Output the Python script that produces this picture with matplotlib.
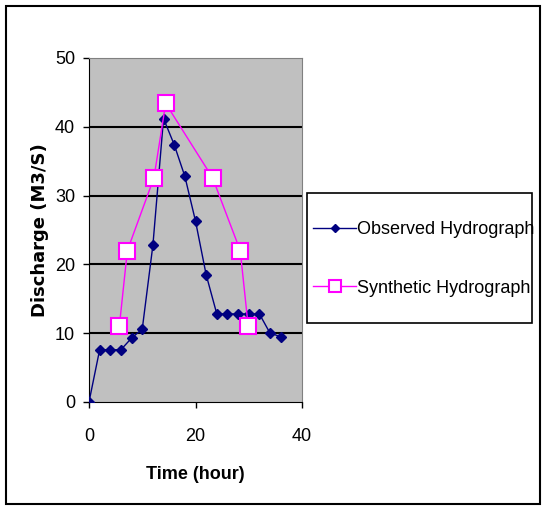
import matplotlib.pyplot as plt
from matplotlib.patches import Rectangle

# Observed hydrograph
t_obs = [0, 2, 4, 6, 8, 10, 12, 14, 16, 18, 20, 22, 24, 26, 28, 30, 32, 34, 36]
q_obs = [0, 7.6, 7.6, 7.6, 9.3, 10.6, 22.8, 41.2, 37.4, 32.8, 26.3, 18.5,
         12.8, 12.8, 12.8, 12.8, 12.8, 10.0, 9.5]

# Synthetic hydrograph
t_syn = [5.7, 7.2, 12.2, 14.4, 23.2, 28.4, 29.9]
q_syn = [11.0, 22.0, 32.6, 43.4, 32.6, 22.0, 11.0]

plt.rcParams['font.family'] = ['Liberation Sans', 'DejaVu Sans']

W, H = 548, 508
fig = plt.figure(figsize=(W / 100, H / 100), dpi=100)

# outer frame
fig.patches.append(Rectangle((6 / W, 4 / H), 534 / W, 498 / H, transform=fig.transFigure,
                             fill=False, edgecolor='black', linewidth=1.5))
# legend frame
fig.patches.append(Rectangle((307 / W, 1 - 323 / H), 225 / W, 130 / H, transform=fig.transFigure,
                             fill=False, edgecolor='black', linewidth=1.2))

ax = fig.add_axes([89 / W, 1 - 402 / H, 213 / W, 344 / H])
ax.set_facecolor('#c0c0c0')

for yv in [10, 20, 30, 40]:
    ax.axhline(yv, color='black', linewidth=1.5, zorder=1)

ax.plot(t_obs, q_obs, color='#000080', marker='D', markersize=5, linewidth=1,
        label='Observed Hydrograph', zorder=3)
ax.plot(t_syn, q_syn, color='#ff00ff', marker='s', markersize=11, markerfacecolor='white',
        markeredgewidth=1.5, linewidth=1, label='Synthetic Hydrograph', zorder=4)

ax.set_xlim(0, 40)
ax.set_ylim(0, 50)
ax.set_xticks([0, 20, 40])
ax.set_yticks([0, 10, 20, 30, 40, 50])
ax.tick_params(axis='both', labelsize=13, direction='out', length=4, width=1)
ax.tick_params(axis='x', pad=15)
ax.tick_params(axis='y', pad=6)
for s in ['top', 'right']:
    ax.spines[s].set_color('#808080')
ax.spines['left'].set_color('black')
ax.spines['bottom'].set_color('black')

ax.set_xlabel('Time (hour)', fontsize=13, fontweight='bold', labelpad=15)
ax.set_ylabel('Discharge (M3/S)', fontsize=13, fontweight='bold',
              family=['DejaVu Sans'], labelpad=4)

leg = fig.legend(loc='upper left', bbox_to_anchor=(313 / W, 1 - 221 / H), fontsize=13,
                 frameon=False, handlelength=2.4, handletextpad=0.05, labelspacing=2.3,
                 borderpad=0, borderaxespad=0, markerscale=0.8)

fig.savefig('out.png', dpi=100)
